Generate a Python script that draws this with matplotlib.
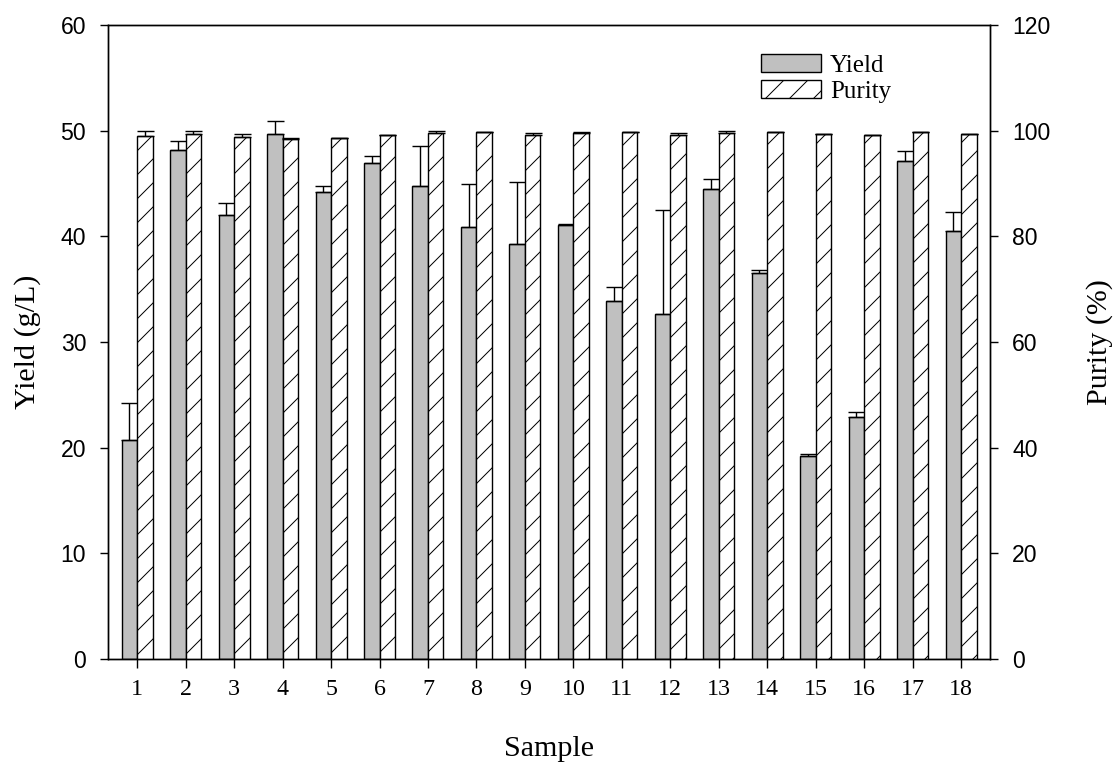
import matplotlib
matplotlib.use('Agg')
import matplotlib.pyplot as plt
import numpy as np

# figure drawn at 72 dpi so that 1 pt == 1 px and the '/' hatch gets ~12 px spacing
DPI = 72
plt.rcParams['hatch.linewidth'] = 1.0

samples = list(range(1, 19))
yield_mean = [20.7, 48.2, 42.0, 49.7, 44.2, 47.0, 44.8, 40.9, 39.3,
              41.1, 33.9, 32.7, 44.5, 36.5, 19.2, 22.9, 47.1, 40.5]
yield_err = [3.5, 0.8, 1.2, 1.2, 0.6, 0.6, 3.8, 4.1, 5.9,
             0.1, 1.3, 9.8, 0.9, 0.3, 0.2, 0.5, 1.0, 1.8]
purity_mean = [99.0, 99.4, 98.8, 98.4, 98.6, 99.2, 99.6, 99.8, 99.2,
               99.6, 99.8, 99.2, 99.6, 99.8, 99.4, 99.2, 99.8, 99.4]
purity_err = [1.0, 0.6, 0.6, 0.2, 0.0, 0.0, 0.3, 0.0, 0.3,
              0.2, 0.0, 0.3, 0.3, 0.0, 0.0, 0.0, 0.0, 0.0]

serif = 'Liberation Serif'
sans = 'Liberation Sans'

fig = plt.figure(figsize=(1115 / DPI, 762 / DPI), dpi=DPI)
ax = fig.add_axes([0.097, 0.135, 0.791, 0.832])
ax2 = ax.twinx()

x = np.array(samples)
w = 0.32
lw = 1.4

ax.bar(x - w / 2, yield_mean, w, color='#c0c0c0', edgecolor='black',
       linewidth=lw, label='Yield', zorder=2)
ax.errorbar(x - w / 2, yield_mean, yerr=[np.zeros(len(x)), yield_err],
            fmt='none', ecolor='black', elinewidth=lw, capsize=8.5, capthick=lw, zorder=3)

ax2.bar(x + w / 2, purity_mean, w, color='white', edgecolor='black',
        hatch='/', linewidth=lw, label='Purity', zorder=2)
ax2.errorbar(x + w / 2, purity_mean, yerr=[np.zeros(len(x)), purity_err],
             fmt='none', ecolor='black', elinewidth=lw, capsize=8.5, capthick=lw, zorder=3)

ax.set_xlim(0.4, 18.6)
ax.set_ylim(0, 60)
ax2.set_ylim(0, 120)
ax.set_xticks(samples)
ax.set_yticks(range(0, 61, 10))
ax2.set_yticks(range(0, 121, 20))

for a in (ax, ax2):
    a.tick_params(direction='out', length=8, width=lw, labelsize=23, pad=14)
    for s in a.spines.values():
        s.set_linewidth(lw)
ax.tick_params(axis='x', length=9, pad=11, labelsize=24)

for lab in ax.get_xticklabels():
    lab.set_fontfamily(serif)
for lab in ax.get_yticklabels() + ax2.get_yticklabels():
    lab.set_fontfamily(sans)

ax.set_xlabel('Sample', fontsize=30, family=serif, labelpad=36)
ax.set_ylabel('Yield (g/L)', fontsize=30, family=serif, labelpad=20)
ax2.set_ylabel('Purity (%)', fontsize=30, family=serif, labelpad=36)

h1, l1 = ax.get_legend_handles_labels()
h2, l2 = ax2.get_legend_handles_labels()
ax2.legend(h1 + h2, l1 + l2, loc='upper left', bbox_to_anchor=(0.715, 0.99),
           frameon=False, prop={'family': serif, 'size': 25},
           handlelength=2.4, handleheight=0.72, handletextpad=0.35, labelspacing=0.15)

fig.savefig('out.png', dpi=DPI)
